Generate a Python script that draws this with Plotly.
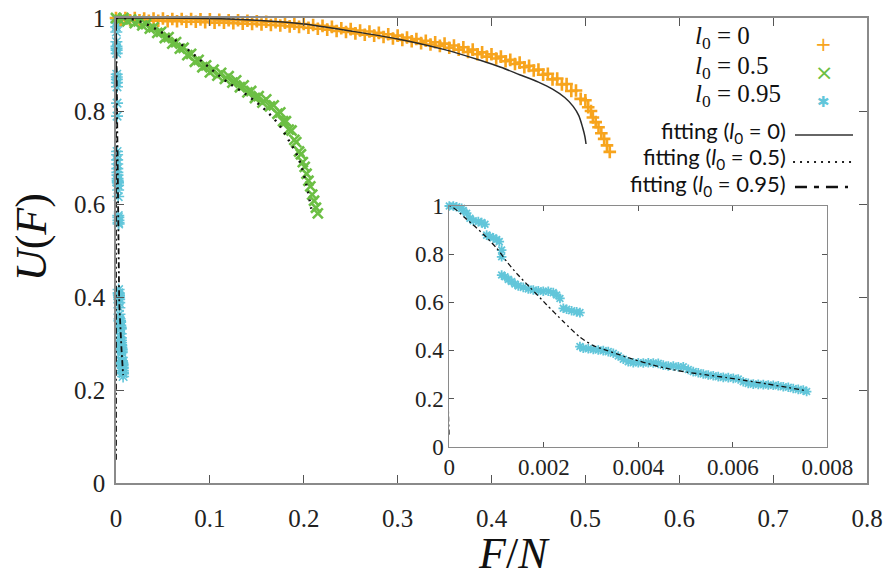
import plotly.graph_objects as go

# ---------------- data ----------------
orange_x = [0.000,0.005,0.010,0.015,0.020,0.025,0.030,0.035,0.040,0.045,0.050,0.055,0.060,0.065,0.070,0.075,0.080,0.085,0.090,0.095,
            0.100,0.105,0.110,0.115,0.120,0.125,0.130,0.135,0.140,0.145,0.150,0.155,0.160,0.165,0.170,0.175,0.180,0.185,0.190,0.195,
            0.200,0.205,0.210,0.215,0.220,0.225,0.230,0.235,0.240,0.245,0.250,0.255,0.260,0.265,0.270,0.275,0.280,0.285,0.290,0.295,
            0.300,0.305,0.310,0.315,0.320,0.325,0.330,0.335,0.340,0.345,0.350,0.355,0.360,0.365,0.370,0.375,0.380,0.385,0.390,0.395,
            0.400,0.405,0.410,0.415,0.420,0.425,0.430,0.435,0.440,0.445,0.450,0.455,0.460,0.465,0.470,0.475,0.480,0.485,0.490,0.495,
            0.500,0.503,0.506,0.508,0.511,0.514,0.517,0.520,0.523,0.526]
orange_u = [1.000,0.996,1.000,0.995,1.000,0.995,0.999,0.994,0.999,0.994,0.999,0.993,0.998,0.993,0.998,0.992,0.998,0.992,0.997,0.991,
            0.997,0.990,0.996,0.990,0.995,0.989,0.995,0.988,0.994,0.987,0.993,0.986,0.992,0.985,0.991,0.984,0.990,0.982,0.988,0.981,
            0.987,0.979,0.985,0.977,0.983,0.975,0.981,0.972,0.978,0.970,0.976,0.967,0.973,0.964,0.971,0.962,0.968,0.959,0.965,0.956,
            0.962,0.953,0.958,0.950,0.955,0.946,0.951,0.943,0.948,0.940,0.945,0.936,0.941,0.932,0.937,0.927,0.932,0.922,0.926,0.917,
            0.922,0.913,0.917,0.907,0.910,0.901,0.904,0.894,0.897,0.887,0.889,0.878,0.880,0.868,0.870,0.857,0.858,0.843,0.844,0.826,
            0.823,0.808,0.800,0.786,0.776,0.765,0.752,0.740,0.726,0.712]

green_x = [0.000,0.004,0.008,0.012,0.016,0.020,0.024,0.028,0.032,0.036,0.040,0.044,0.048,0.052,0.056,0.060,0.064,0.068,0.072,0.076,
           0.080,0.084,0.088,0.092,0.096,0.100,0.104,0.108,0.112,0.116,0.120,0.124,0.128,0.132,0.136,0.140,0.144,0.148,0.152,0.156,
           0.160,0.164,0.168,0.172,0.175,0.178,0.181,0.184,0.187,0.190,0.192,0.195,0.197,0.199,0.201,0.203,0.205,0.207,0.209,0.211,
           0.213,0.215]
green_u = [1.000,0.996,1.000,0.993,0.997,0.989,0.993,0.984,0.987,0.977,0.980,0.968,0.970,0.957,0.959,0.945,0.948,0.934,0.936,0.920,
           0.923,0.906,0.910,0.894,0.898,0.883,0.889,0.876,0.882,0.869,0.875,0.861,0.866,0.851,0.855,0.840,0.843,0.828,0.832,0.818,
           0.825,0.810,0.812,0.794,0.797,0.778,0.778,0.760,0.758,0.738,0.733,0.713,0.707,0.690,0.680,0.665,0.650,0.638,0.620,0.607,
           0.592,0.580]

cyan_x = [0, 0.0000847, 0.000155, 0.000261, 0.000296, 0.000367, 0.000437, 0.000508, 0.000614, 0.000684, 0.000755,
          0.00079, 0.000861, 0.000931, 0.001002, 0.001058,
          0.001108, 0.001108,
          0.001108, 0.001178, 0.001249, 0.001319, 0.00139, 0.00146, 0.001566, 0.001672, 0.001778, 0.001884, 0.001989,
          0.002095, 0.002201, 0.002272, 0.002342,
          0.002413, 0.002483, 0.002589, 0.002695, 0.002765,
          0.002765, 0.002836, 0.002942, 0.003048, 0.003153, 0.003259, 0.003365, 0.003471, 0.003577, 0.003683, 0.003788,
          0.003894, 0.004, 0.004106, 0.004212, 0.004317, 0.004423, 0.004529, 0.004635, 0.004741, 0.004847, 0.004952,
          0.005058, 0.005164, 0.00527, 0.005376, 0.005481, 0.005587, 0.005693, 0.005799, 0.005905, 0.006011, 0.006116,
          0.006222, 0.006328, 0.006434, 0.00654, 0.006646, 0.006751, 0.006857, 0.006963, 0.007069, 0.007175, 0.00728,
          0.007386, 0.007492, 0.007563]
cyan_u = [1.0, 1.0, 0.997, 0.99, 0.981, 0.97, 0.949, 0.939, 0.935, 0.931, 0.924,
          0.879, 0.873, 0.868, 0.861, 0.852,
          0.817, 0.789,
          0.713, 0.706, 0.695, 0.686, 0.676, 0.668, 0.662, 0.655, 0.651, 0.648, 0.646,
          0.646, 0.64, 0.63, 0.616,
          0.575, 0.571, 0.565, 0.56, 0.557,
          0.416, 0.409, 0.407, 0.404, 0.402, 0.399, 0.395, 0.388, 0.377, 0.363, 0.353,
          0.349, 0.349, 0.348, 0.349, 0.348, 0.346, 0.339, 0.335, 0.335, 0.332, 0.332,
          0.321, 0.312, 0.307, 0.302, 0.298, 0.295, 0.291, 0.288, 0.287, 0.284, 0.281,
          0.27, 0.263, 0.26, 0.259, 0.258, 0.256, 0.255, 0.253, 0.249, 0.247, 0.242,
          0.238, 0.235, 0.229]

fit0_x = [0, 0.05, 0.1, 0.15, 0.2, 0.25, 0.3, 0.35, 0.388, 0.41, 0.43, 0.45, 0.465, 0.478, 0.487, 0.493, 0.497, 0.4995, 0.5007]
fit0_u = [1.0, 1.0, 0.999, 0.995, 0.987, 0.972, 0.955, 0.932, 0.909, 0.894, 0.878, 0.862, 0.847, 0.829, 0.810, 0.790, 0.765, 0.745, 0.729]

fit05_x = [0, 0.013, 0.031, 0.0487, 0.0664, 0.086, 0.102, 0.118, 0.139, 0.157, 0.173, 0.184, 0.194, 0.201, 0.208]
fit05_u = [1.0, 0.999, 0.988, 0.969, 0.948, 0.916, 0.889, 0.863, 0.835, 0.806, 0.772, 0.737, 0.700, 0.656, 0.590]

fit95_x = [0, 0, 0.000367, 0.00072, 0.001002, 0.001213, 0.001425, 0.001707, 0.00206, 0.002413, 0.002765, 0.003048,
           0.00333, 0.003612, 0.003894, 0.004317, 0.00467, 0.005023, 0.005446, 0.005869, 0.006293, 0.006716,
           0.007139, 0.007563]
fit95_u = [0.05, 1.0, 0.945, 0.883, 0.825, 0.770, 0.720, 0.662, 0.590, 0.520, 0.455, 0.420,
           0.400, 0.381, 0.363, 0.339, 0.322, 0.310, 0.298, 0.287, 0.274, 0.261,
           0.247, 0.232]

main_xticks = [0, 0.1, 0.2, 0.3, 0.4, 0.5, 0.6, 0.7, 0.8]
main_xtext = ["0", "0.1", "0.2", "0.3", "0.4", "0.5", "0.6", "0.7", "0.8"]
yticks = [0, 0.2, 0.4, 0.6, 0.8, 1.0]
ytext = ["0", "0.2", "0.4", "0.6", "0.8", "1"]
inset_xticks = [0, 0.002, 0.004, 0.006, 0.008]
inset_xtext = ["0", "0.002", "0.004", "0.006", "0.008"]

legend_labels = ["<i>l</i><sub>0</sub> = 0", "<i>l</i><sub>0</sub> = 0.5", "<i>l</i><sub>0</sub> = 0.95"]
fit_labels = ["fitting (<i>l</i><sub>0</sub> = 0)", "fitting (<i>l</i><sub>0</sub> = 0.5)", "fitting (<i>l</i><sub>0</sub> = 0.95)"]

# ---------------- style ----------------
ORANGE = "#F7A41D"
GREEN = "#6CBF44"
CYAN = "#62C6DA"
FITC = "#2a2a2a"
SERIF = "Liberation Serif, Times New Roman, serif"

fig = go.Figure()

fig.add_trace(go.Scatter(x=cyan_x, y=cyan_u, mode="markers", cliponaxis=False,
                         marker=dict(symbol="asterisk", size=10, line=dict(color=CYAN, width=1.6))))
fig.add_trace(go.Scatter(x=orange_x, y=orange_u, mode="markers", cliponaxis=False,
                         marker=dict(symbol="cross-thin", size=9, line=dict(color=ORANGE, width=2.6))))
fig.add_trace(go.Scatter(x=green_x, y=green_u, mode="markers", cliponaxis=False,
                         marker=dict(symbol="x-thin", size=10, line=dict(color=GREEN, width=2.6))))
fig.add_trace(go.Scatter(x=fit0_x, y=fit0_u, mode="lines", line=dict(color=FITC, width=1.5, shape="spline", smoothing=0.8)))
fig.add_trace(go.Scatter(x=fit05_x, y=fit05_u, mode="lines", line=dict(color="#111", width=2.4, dash="2px,6px", shape="spline")))
fig.add_trace(go.Scatter(x=fit95_x, y=fit95_u, mode="lines", line=dict(color="#111", width=1.8, dash="6px,3px,2px,3px")))

fig.add_trace(go.Scatter(x=cyan_x, y=cyan_u, mode="markers", xaxis="x2", yaxis="y2", cliponaxis=False,
                         marker=dict(symbol="asterisk", size=8, line=dict(color=CYAN, width=1.8))))
fig.add_trace(go.Scatter(x=fit95_x, y=fit95_u, mode="lines", xaxis="x2", yaxis="y2",
                         line=dict(color="#111", width=1.3, dash="5px,3px,2px,3px", shape="spline", smoothing=0.6)))

axis_common = dict(showgrid=False, zeroline=False, showline=True, mirror="ticks", ticks="inside",
                   linecolor="#8a8a8a", tickcolor="#555")

fig.update_layout(
    width=888, height=580,
    margin=dict(l=116, r=21, t=18, b=97, autoexpand=False),
    plot_bgcolor="white", paper_bgcolor="white", showlegend=False,
    xaxis=dict(range=[0, 0.8], tickvals=main_xticks, ticktext=main_xtext, ticklen=8, linewidth=1.6,
               tickfont=dict(family=SERIF, size=25, color="#222"), ticklabelstandoff=12, **axis_common),
    yaxis=dict(range=[0, 1], tickvals=yticks, ticktext=ytext, ticklen=8, linewidth=1.6,
               tickfont=dict(family=SERIF, size=25, color="#222"), ticklabelstandoff=4, **axis_common),
    xaxis2=dict(domain=[0.4438, 0.9471], anchor="y2", range=[0, 0.008], tickvals=inset_xticks, ticktext=inset_xtext,
                ticklen=5, linewidth=1, tickfont=dict(family=SERIF, size=23, color="#222"), ticklabelstandoff=0,
                **axis_common),
    yaxis2=dict(domain=[0.0781, 0.5957], anchor="x2", range=[0, 1], tickvals=yticks, ticktext=ytext,
                ticklen=5, linewidth=1, tickfont=dict(family=SERIF, size=23, color="#222"), ticklabelstandoff=0,
                **axis_common),
)

ann = []
ann.append(dict(text="<i>F</i>/<i>N</i>", x=0.53, y=-0.152, xref="paper", yref="paper", showarrow=False,
                font=dict(family=SERIF, size=44, color="#111"), xanchor="center", yanchor="middle"))
ann.append(dict(text="<i>U</i>(<i>F</i>)", x=-0.113, y=0.529, xref="paper", yref="paper", showarrow=False,
                textangle=-90, font=dict(family=SERIF, size=44, color="#111"), xanchor="center", yanchor="middle"))

leg_y = [0.957, 0.8946, 0.8323]
glyphs = ["+", "\u00d7", "\u2731"]
gcolors = [ORANGE, GREEN, CYAN]
gsizes = [20, 22, 15]
for lab, yy, g, c, s in zip(legend_labels, leg_y, glyphs, gcolors, gsizes):
    ann.append(dict(text=lab, x=0.7683, y=yy, xref="paper", yref="paper", showarrow=False,
                    xanchor="left", yanchor="middle", font=dict(family=SERIF, size=25, color="#111")))
    ann.append(dict(text=g, x=0.9427, y=yy - 0.012, xref="paper", yref="paper", showarrow=False,
                    xanchor="center", yanchor="middle", font=dict(family="DejaVu Sans", size=s, color=c)))

fit_y = [0.7548, 0.6989, 0.6409]
for lab, yy in zip(fit_labels, fit_y):
    ann.append(dict(text=lab, x=0.8948, y=yy, xref="paper", yref="paper", showarrow=False,
                    xanchor="right", yanchor="middle", font=dict(family="Lato", size=22, color="#111")))

fig.update_layout(annotations=ann)

line_specs = [(0.9041, 0.9814, 0.7484, "solid", "#333", 1.5),
              (0.9015, 0.9800, 0.6903, "2px,5px", "#222", 2.2),
              (0.9041, 0.9747, 0.6366, "12px,7px,5px,7px", "#111", 2.5)]
for x0, x1, yy, d, c, w in line_specs:
    fig.add_shape(type="line", xref="paper", yref="paper", x0=x0, x1=x1, y0=yy, y1=yy,
                  line=dict(color=c, width=w, dash=d))

fig.write_html("out.html")
